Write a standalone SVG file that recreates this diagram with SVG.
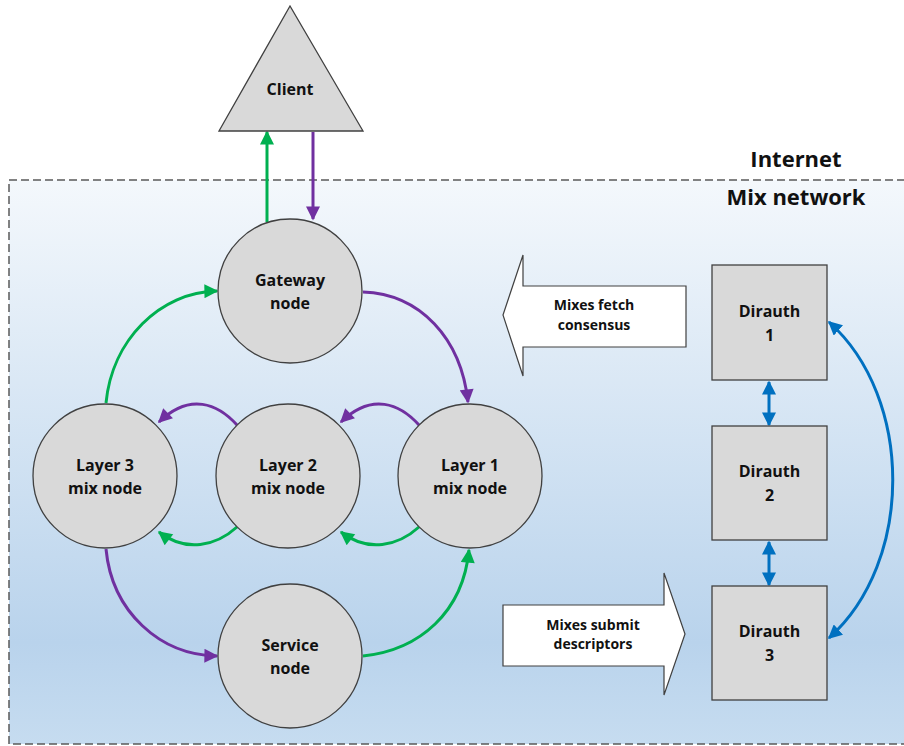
<svg xmlns="http://www.w3.org/2000/svg" width="904" height="746" viewBox="0 0 904 746">
<defs>
<linearGradient id="bg" x1="0" y1="0" x2="0" y2="1">
<stop offset="0" stop-color="#f4f8fc"/>
<stop offset="0.82" stop-color="#b9d3ec"/>
<stop offset="1" stop-color="#c6dcf0"/>
</linearGradient>
<marker id="ag" viewBox="0 0 10 10" refX="9" refY="5" markerUnits="userSpaceOnUse" markerWidth="15" markerHeight="14" orient="auto"><path d="M0,0 L10,5 L0,10 z" fill="#00b050"/></marker>
<marker id="ap" viewBox="0 0 10 10" refX="9" refY="5" markerUnits="userSpaceOnUse" markerWidth="15" markerHeight="14" orient="auto"><path d="M0,0 L10,5 L0,10 z" fill="#7030a0"/></marker>
<marker id="ab" viewBox="0 0 10 10" refX="9" refY="5" markerUnits="userSpaceOnUse" markerWidth="14" markerHeight="14" orient="auto-start-reverse"><path d="M0,0 L10,5 L0,10 z" fill="#0070c0"/></marker>
</defs>
<style>
.node{fill:#d9d9d9;stroke:#404040;stroke-width:1.3}
.t{font-family:"Open Sans","Liberation Sans",sans-serif;font-weight:bold;font-size:16px;fill:#111;text-anchor:middle}
.s{font-size:14px}
.big{font-size:22px}
.g{fill:none;stroke:#00b050;stroke-width:3;marker-end:url(#ag)}
.p{fill:none;stroke:#7030a0;stroke-width:3;marker-end:url(#ap)}
.b{fill:none;stroke:#0070c0;stroke-width:3;marker-start:url(#ab);marker-end:url(#ab)}
.blk{fill:#fff;stroke:#404040;stroke-width:1.2}
</style>
<rect x="0" y="0" width="904" height="746" fill="#fff"/>
<rect id="mixnet" x="9" y="180" width="900" height="564" fill="url(#bg)" stroke="#595959" stroke-width="1.5" stroke-dasharray="8 4"/>
<text class="t big" x="796" y="167">Internet</text>
<text class="t big" x="796" y="205">Mix network</text>

<g id="connectors">
<path class="g" d="M267,222 L267,132"/>
<path class="p" d="M313,132 L313,219"/>
<path class="p" d="M363,292 C420,294 461,338 468,402"/>
<path class="g" d="M106,403 C112,340 160,292 217,291"/>
<path class="p" d="M106,549 C112,612 160,655 217,656"/>
<path class="g" d="M363,656 C420,650 463,612 469,550"/>
<path class="p" d="M419,425 C400,404 372,392 341,422"/>
<path class="p" d="M237,425 C218,404 190,392 159,422"/>
<path class="g" d="M419,527 C398,546 368,553 341,532"/>
<path class="g" d="M237,527 C216,546 186,553 159,532"/>
<path class="b" d="M769,382 L769,425"/>
<path class="b" d="M769,542 L769,585"/>
<path class="b" d="M829,322 C914,398 914,562 829,638"/>
</g>

<g id="client">
<polygon class="node" points="290,6 219,131 363,131"/>
<text class="t" x="290" y="95">Client</text>
</g>
<g id="gateway">
<circle class="node" cx="290" cy="291" r="72"/>
<text class="t" x="290" y="286">Gateway</text>
<text class="t" x="290" y="309">node</text>
</g>
<g id="layer3">
<circle class="node" cx="105" cy="476" r="72"/>
<text class="t" x="105" y="471">Layer 3</text>
<text class="t" x="105" y="494">mix node</text>
</g>
<g id="layer2">
<circle class="node" cx="288" cy="476" r="72"/>
<text class="t" x="288" y="471">Layer 2</text>
<text class="t" x="288" y="494">mix node</text>
</g>
<g id="layer1">
<circle class="node" cx="470" cy="476" r="72"/>
<text class="t" x="470" y="471">Layer 1</text>
<text class="t" x="470" y="494">mix node</text>
</g>
<g id="service">
<circle class="node" cx="290" cy="656" r="72"/>
<text class="t" x="290" y="651">Service</text>
<text class="t" x="290" y="674">node</text>
</g>
<g id="fetch">
<polygon class="blk" points="503,315 523,255 523,286 686,286 686,347 523,347 523,376"/>
<text class="t s" x="594" y="310">Mixes fetch</text>
<text class="t s" x="594" y="330">consensus</text>
</g>
<g id="submit">
<polygon class="blk" points="503,605 664,605 664,573 685,634 664,695 664,666 503,666"/>
<text class="t s" x="593" y="630">Mixes submit</text>
<text class="t s" x="593" y="649">descriptors</text>
</g>
<g id="dirauth1">
<rect class="node" x="712" y="265" width="115" height="115"/>
<text class="t" x="769.5" y="317">Dirauth</text>
<text class="t" x="769.5" y="341">1</text>
</g>
<g id="dirauth2">
<rect class="node" x="712" y="426" width="115" height="114"/>
<text class="t" x="769.5" y="477">Dirauth</text>
<text class="t" x="769.5" y="501">2</text>
</g>
<g id="dirauth3">
<rect class="node" x="712" y="586" width="115" height="114"/>
<text class="t" x="769.5" y="637">Dirauth</text>
<text class="t" x="769.5" y="661">3</text>
</g>
</svg>
